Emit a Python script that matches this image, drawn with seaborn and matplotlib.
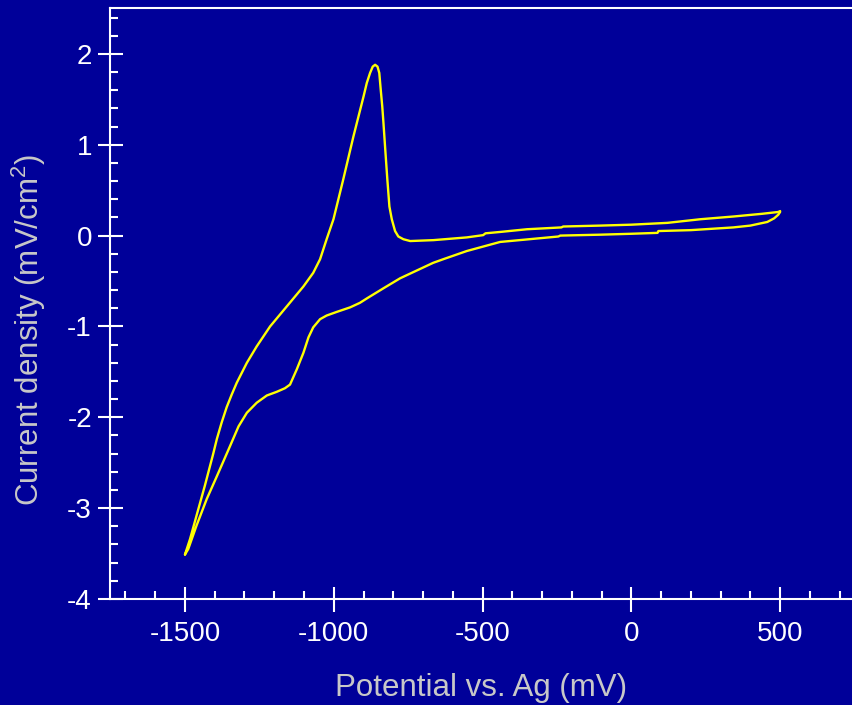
import numpy as np
import pandas as pd
import matplotlib
matplotlib.use("Agg")
import matplotlib.pyplot as plt
from matplotlib.ticker import MultipleLocator
import seaborn as sns

# Forward (anodic) scan: -1500 -> +500 mV
fwd_potential = [-1500, -1483, -1461, -1433, -1405, -1393, -1377, -1360, -1343, -1326,
                 -1292, -1259, -1214, -1158, -1102, -1069, -1046, -1024, -1001, -968,
                 -934, -917, -900, -889, -878, -869, -861, -853, -847, -842,
                 -837, -833, -827, -820, -813, -805, -794, -783, -766, -743,
                 -665, -553, -498, -490, -441, -350, -235, -229, -104, 0,
                 121, 232, 343, 440, 494, 500]
fwd_current = [-3.51, -3.34, -3.08, -2.75, -2.40, -2.24, -2.06, -1.89, -1.75, -1.62,
               -1.40, -1.22, -1.00, -0.78, -0.56, -0.41, -0.26, -0.04, 0.18, 0.62,
               1.09, 1.31, 1.53, 1.68, 1.79, 1.86, 1.88, 1.86, 1.79, 1.60,
               1.42, 1.24, 0.95, 0.62, 0.32, 0.18, 0.05, -0.01, -0.04, -0.06,
               -0.05, -0.02, 0.005, 0.025, 0.04, 0.07, 0.09, 0.10, 0.11, 0.12,
               0.14, 0.18, 0.21, 0.24, 0.26, 0.27]
# Reverse (cathodic) scan: +500 -> -1500 mV
rev_potential = [500, 494, 480, 457, 400, 343, 200, 91, 88, 0,
                 -104, -239, -245, -441, -553, -632, -666, -777, -833, -888,
                 -912, -945, -990, -1024, -1046, -1069, -1085, -1102, -1124, -1147,
                 -1164, -1192, -1225, -1259, -1292, -1320, -1349, -1393, -1427, -1461,
                 -1489, -1500]
rev_current = [0.26, 0.23, 0.19, 0.15, 0.11, 0.09, 0.06, 0.05, 0.03, 0.02,
               0.01, 0.00, -0.01, -0.07, -0.17, -0.26, -0.30, -0.47, -0.58, -0.69,
               -0.74, -0.79, -0.84, -0.88, -0.92, -1.01, -1.12, -1.29, -1.47, -1.64,
               -1.68, -1.72, -1.76, -1.84, -1.95, -2.10, -2.32, -2.65, -2.90, -3.19,
               -3.45, -3.51]

x_ticks = [-1500, -1000, -500, 0, 500]
y_ticks = [-4, -3, -2, -1, 0, 1, 2]

df = pd.DataFrame({
    "potential": fwd_potential + rev_potential,
    "current": fwd_current + rev_current,
})
df["order"] = np.arange(len(df))

bg = "#000099"
sns.set_theme(style="white")
plt.rcParams["font.family"] = ["Liberation Sans", "DejaVu Sans"]
plt.rcParams["mathtext.fontset"] = "custom"
plt.rcParams["mathtext.rm"] = "Liberation Sans"
plt.rcParams["mathtext.default"] = "regular"
plt.rcParams["axes.unicode_minus"] = False

fig = plt.figure(figsize=(8.53, 7.05), dpi=100, facecolor=bg)
ax = fig.add_axes([110 / 853, 1 - 599 / 705, 1 - 110 / 853, (599 - 8) / 705])
ax.set_facecolor(bg)

sns.lineplot(data=df, x="potential", y="current", sort=False, estimator=None,
             color="#ffff00", linewidth=1.7, ax=ax,
             solid_joinstyle="round", solid_capstyle="round")

ax.set_xlim(-1752, 745)
ax.set_ylim(-4, 2.505)
ax.set_xticks(x_ticks)
ax.set_yticks(y_ticks)
ax.xaxis.set_minor_locator(MultipleLocator(100))
ax.yaxis.set_minor_locator(MultipleLocator(0.2))

for side in ["left", "top", "bottom"]:
    ax.spines[side].set_visible(True)
    ax.spines[side].set_color("white")
    ax.spines[side].set_linewidth(1.5)
ax.spines["right"].set_visible(False)

ax.tick_params(which="major", direction="inout", length=18, width=1.5,
               color="white", labelcolor="white", labelsize=20,
               bottom=True, left=True, top=False, right=False)
ax.tick_params(axis="x", which="major", pad=7)
ax.tick_params(axis="y", which="major", pad=4)
ax.tick_params(which="minor", direction="in", length=5.5, width=1.5,
               color="white", bottom=True, left=True, top=False, right=False)

ax.set_xlabel("Potential vs. Ag (mV)", color="#c8c8c8", fontsize=22.5)
ax.set_ylabel("Current density (mV/cm$^{2}$)", color="#c8c8c8", fontsize=22.5)
ax.xaxis.set_label_coords(0.5, -0.125)
ax.yaxis.set_label_coords(-0.084, 0.455)

fig.savefig("out.png", dpi=100, facecolor=bg)
